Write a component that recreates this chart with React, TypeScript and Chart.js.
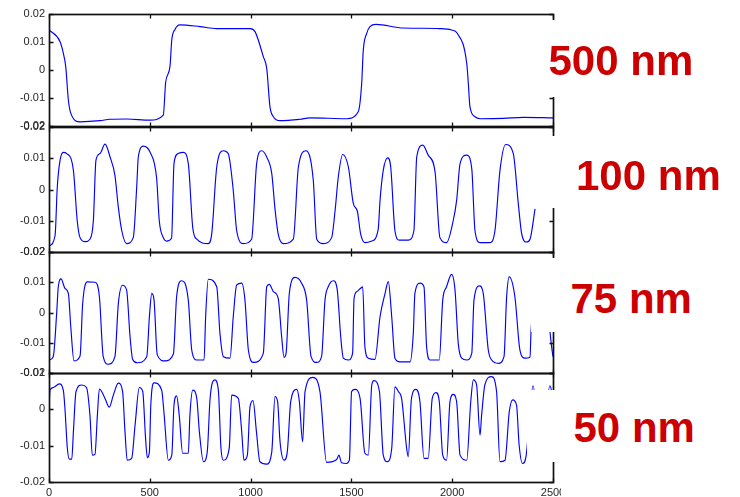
import React, { useEffect, useRef } from 'react';
import { Chart, registerables } from 'chart.js';

Chart.register(...registerables);

// ---------- data ----------
const X_TICKS = [0, 500, 1000, 1500, 2000, 2500];
const Y_TICKS_FULL = [-0.02, -0.01, 0, 0.01, 0.02];
const Y_TICKS_50 = [-0.02, -0.01, 0, 0.01];
const LABELS = ['500 nm', '100 nm', '75 nm', '50 nm'];

const TRACE_500NM: [number, number][] = [
  [0, 0.0143], [55, 0.0101], [71, 0.006], [83, 0.0012], [96, -0.0107], [108, -0.0154], [154, -0.0185],
  [253, -0.0181], [303, -0.0176], [385, -0.0175], [501, -0.0179], [567, -0.0161], [579, -0.0042],
  [600, 0.0012], [609, 0.0107], [625, 0.0145], [650, 0.0161], [749, 0.0155], [832, 0.0148], [997, 0.0148],
  [1022, 0.0137], [1063, 0.0048], [1080, 0.0006], [1096, -0.0131], [1113, -0.0167], [1146, -0.0181],
  [1245, -0.0176], [1295, -0.0171], [1477, -0.0174], [1534, -0.0149], [1551, -0.0048], [1559, 0.0071],
  [1576, 0.0131], [1592, 0.0155], [1622, 0.0163], [1757, 0.015], [1939, 0.0148], [1997, 0.0143],
  [2025, 0.0131], [2072, 0.0024], [2080, -0.0048], [2088, -0.0131], [2113, -0.0167], [2138, -0.0174],
  [2253, -0.0173], [2353, -0.0169], [2500, -0.0171],
];

const TRACE_100NM: [number, number][] = [
  [0, -0.0181], [30, -0.0148], [41, 0.0007], [55, 0.0094], [71, 0.0119], [88, 0.0115], [121, 0.0061],
  [140, -0.01], [154, -0.0154], [179, -0.0167], [203, -0.0159], [220, -0.01], [233, 0.0094], [253, 0.0115],
  [278, 0.0145], [303, 0.0104], [327, 0.0045], [344, -0.0057], [361, -0.0132], [385, -0.0173], [418, -0.0154],
  [435, 0.0007], [443, 0.0104], [468, 0.0139], [501, 0.012], [534, 0.0035], [547, -0.01], [567, -0.0154],
  [583, -0.0165], [608, -0.0156], [620, 0.0083], [641, 0.0115], [666, 0.0119], [691, 0.0083], [713, -0.0122],
  [733, -0.0159], [790, -0.0173], [807, -0.0143], [832, 0.0072], [865, 0.0124], [889, 0.0115], [914, -0.0003],
  [931, -0.0132], [964, -0.0173], [1005, -0.0159], [1030, 0.0083], [1055, 0.0124], [1080, 0.0104],
  [1105, 0.0051], [1121, -0.0062], [1137, -0.0143], [1162, -0.0173], [1212, -0.0159], [1237, 0.0072],
  [1275, 0.0124], [1311, 0.0029], [1328, -0.0159], [1361, -0.0173], [1402, -0.0154], [1419, -0.0068],
  [1435, 0.004], [1457, 0.0112], [1485, 0.0072], [1510, -0.0046], [1529, -0.0068], [1546, -0.0143],
  [1567, -0.017], [1601, -0.0165], [1633, -0.0127], [1642, -0.0035], [1658, 0.0061], [1680, 0.0101],
  [1695, 0.0072], [1716, -0.0132], [1738, -0.0162], [1782, -0.0162], [1810, -0.0132], [1824, 0.0104],
  [1854, 0.0142], [1881, 0.011], [1915, 0.0056], [1939, -0.0154], [1972, -0.017], [2005, -0.01],
  [2022, -0.0035], [2039, 0.0083], [2072, 0.011], [2097, 0.0067], [2113, -0.0132], [2138, -0.017],
  [2187, -0.017], [2212, -0.0132], [2237, 0.0061], [2265, 0.0144], [2303, 0.0115], [2328, -0.0046],
  [2345, -0.0143], [2369, -0.0168], [2386, -0.0159], [2411, -0.0062],
];

const TRACE_75NM: [number, number][] = [
  [0, -0.0157], [21, -0.0146], [38, -0.0003], [46, 0.0085], [60, 0.0111], [79, 0.008], [96, 0.0063],
  [108, -0.0047], [124, -0.016], [154, -0.0144], [167, 0.003], [190, 0.0101], [228, 0.01], [250, 0.0052],
  [269, -0.0146], [294, -0.0171], [327, -0.0146], [344, 0.003], [365, 0.009], [385, 0.0074], [402, -0.008],
  [415, -0.0155], [438, -0.0166], [485, -0.0146], [498, -0.0014], [510, 0.0063], [521, 0.0041], [537, -0.014],
  [575, -0.016], [617, -0.0137], [633, 0.0052], [658, 0.0105], [691, 0.0041], [708, -0.0124], [733, -0.0157],
  [769, -0.0157], [777, -0.0014], [790, 0.011], [832, 0.0085], [848, -0.0069], [865, -0.0146], [898, -0.0151],
  [914, -0.0014], [931, 0.0091], [956, 0.0097], [972, 0.0041], [989, -0.0124], [1015, -0.0165], [1063, -0.0135],
  [1080, 0.0085], [1093, 0.0093], [1113, 0.0069], [1137, 0.0047], [1154, -0.008], [1166, -0.0148],
  [1176, -0.0135], [1192, 0.0063], [1220, 0.0116], [1253, 0.0097], [1278, 0.0041], [1300, -0.0146],
  [1328, -0.0165], [1352, -0.0146], [1369, 0.0041], [1385, 0.0085], [1410, 0.0105], [1430, 0.0074],
  [1447, -0.008], [1460, -0.0151], [1485, -0.0157], [1506, -0.0135], [1513, 0.0045], [1527, 0.0069],
  [1546, 0.008], [1556, 0.0085], [1567, -0.0113], [1584, -0.0151], [1617, -0.0155], [1642, -0.0014],
  [1667, 0.0063], [1683, 0.0102], [1700, -0.0014], [1716, -0.0151], [1741, -0.0163], [1791, -0.0163],
  [1807, -0.0069], [1815, 0.0063], [1840, 0.0097], [1860, 0.0085], [1873, -0.0113], [1890, -0.0157],
  [1936, -0.0157], [1953, 0.0041], [1972, 0.0085], [1997, 0.0126], [2014, 0.0074], [2030, -0.0102],
  [2047, -0.0151], [2072, -0.0157], [2097, -0.0135], [2108, 0.0041], [2135, 0.0088], [2154, 0.0063],
  [2179, -0.0124], [2196, -0.0157], [2229, -0.0168], [2257, -0.0146], [2270, 0.0052], [2283, 0.0118],
  [2311, 0.0052], [2336, -0.0124], [2361, -0.0151], [2386, -0.0148], [2391, -0.0063], [2410, 0.006],
  [2445, 0.008], [2475, 0.003], [2485, -0.0063], [2493, -0.0113], [2500, -0.0146],
];

const TRACE_50NM: [number, number][] = [
  [0, 0.0003], [5, 0.0053], [21, 0.006], [51, 0.007], [71, 0.0053], [79, 0.0003], [91, -0.0107],
  [101, -0.0137], [113, -0.0137], [121, -0.0062], [134, 0.0049], [162, 0.0067], [186, 0.006], [203, -0.0016],
  [215, -0.0126], [228, -0.0124], [240, -0.0016], [250, 0.0056], [278, 0.003], [299, 0.0006], [319, 0.0039],
  [344, 0.0072], [365, 0.0049], [377, -0.0062], [388, -0.014], [410, -0.0135], [427, -0.0043], [448, 0.006],
  [465, 0.0049], [479, -0.008], [488, -0.0133], [498, -0.0117], [505, 0.0012], [521, 0.0073], [559, 0.0053],
  [570, -0.0007], [592, -0.014], [609, -0.0126], [620, 0.0012], [633, 0.0037], [646, -0.0016], [663, -0.0121],
  [691, -0.0121], [699, -0.0016], [713, 0.0053], [733, 0.003], [746, -0.0062], [766, -0.0144], [785, -0.0117],
  [799, 0.003], [823, 0.0081], [840, 0.0053], [853, -0.0107], [865, -0.014], [894, -0.0107], [906, 0.0039],
  [939, 0.003], [956, -0.0062], [967, -0.014], [984, -0.0126], [997, 0.0007], [1012, 0.0024], [1029, -0.0062],
  [1046, -0.0144], [1079, -0.0151], [1105, -0.0117], [1121, 0.0035], [1134, 0.0021], [1146, -0.0089],
  [1166, -0.014], [1182, -0.0117], [1199, 0.0021], [1229, 0.0055], [1242, 0.0021], [1258, -0.0089],
  [1270, 0.0049], [1308, 0.0088], [1344, 0.0049], [1377, -0.0146], [1427, -0.0138], [1438, -0.0126],
  [1451, -0.0147], [1475, -0.0149], [1490, -0.014], [1501, 0.0049], [1518, 0.0055], [1543, 0.003],
  [1567, -0.0121], [1584, -0.0126], [1601, 0.0067], [1612, 0.0079], [1639, 0.0049], [1658, -0.0126],
  [1678, -0.0144], [1700, -0.0107], [1716, 0.0062], [1733, 0.0049], [1749, 0.003], [1774, -0.0107],
  [1782, -0.013], [1798, 0.003], [1820, 0.0055], [1840, 0.0021], [1860, -0.0135], [1881, -0.0135],
  [1901, 0.003], [1920, 0.0046], [1936, 0.0021], [1953, -0.0126], [1972, -0.014], [1989, 0.0021],
  [2005, 0.0041], [2022, 0.0021], [2039, -0.0126], [2072, -0.014], [2092, 0.0021], [2105, 0.0081],
  [2121, 0.0067], [2138, -0.0071], [2146, -0.0016], [2162, 0.0067], [2195, 0.009], [2220, 0.0049],
  [2237, -0.0144], [2262, -0.014], [2283, -0.0007], [2300, 0.0026], [2319, 0.0012], [2332, -0.0098],
  [2349, -0.0149], [2366, -0.013], [2401, 0.0065], [2440, -0.012], [2485, 0.0065], [2500, 0.003],
];

// ---------- layout ----------
const FONT_FAMILY = '"Liberation Sans", Arial, Helvetica, sans-serif';
const TICK_COLOR = '#262626';

type PanelDef = {
  trace: [number, number][];
  yMin: number;
  yMax: number;
  yTicks: number[];
  top: number;
  height: number;
  padTop: number;
  padBottom: number;
  showX: boolean;
  xHeight: number;
};

const PANELS: PanelDef[] = [
  { trace: TRACE_500NM, yMin: -0.02, yMax: 0.02, yTicks: Y_TICKS_FULL, top: 0, height: 140, padTop: 14, padBottom: 14, showX: false, xHeight: 0 },
  { trace: TRACE_100NM, yMin: -0.02, yMax: 0.02, yTicks: Y_TICKS_FULL, top: 113, height: 155, padTop: 14, padBottom: 16, showX: false, xHeight: 0 },
  { trace: TRACE_75NM, yMin: -0.02, yMax: 0.02, yTicks: Y_TICKS_FULL, top: 238, height: 150, padTop: 14, padBottom: 15, showX: false, xHeight: 0 },
  { trace: TRACE_50NM, yMin: -0.02, yMax: 0.01, yTicks: Y_TICKS_50, top: 359, height: 138, padTop: 14, padBottom: 0, showX: true, xHeight: 15 },
];

// white label boxes (page coordinates) and label text positions
const BOXES = [
  { left: 548, top: 20, width: 170, height: 77 },
  { left: 540, top: 136, width: 195, height: 72 },
  { left: 531, top: 258, width: 190, height: 74 },
  { left: 527, top: 390, width: 195, height: 72 },
];
const LABEL_POS = [
  { left: 548.5, top: 39.5 },
  { left: 576, top: 154.5 },
  { left: 570.5, top: 277.5 },
  { left: 573.5, top: 406.5 },
];

const CANVAS_W = 600;
const CLIP_W = 561;

const framePlugin = {
  id: 'frame',
  afterDatasetsDraw(chart: any, _args: any, opts: any) {
    const { ctx, chartArea: a, scales } = chart;
    const xs = scales.x;
    const ys = scales.y;
    const L = Math.round(a.left) + 0.5;
    const R = Math.round(a.right) + 0.5;
    const T = Math.round(a.top) + 0.5;
    const B = Math.round(a.bottom) + 0.5;
    ctx.save();
    ctx.strokeStyle = '#111111';
    ctx.lineWidth = 1.7;
    ctx.strokeRect(L, T, R - L, B - T);
    ctx.beginPath();
    ctx.lineWidth = 1.3;
    const tl = 4;
    for (const v of opts.xTicks as number[]) {
      const p = Math.round(xs.getPixelForValue(v)) + 0.5;
      ctx.moveTo(p, B); ctx.lineTo(p, B - tl);
      ctx.moveTo(p, T); ctx.lineTo(p, T + tl);
    }
    for (const v of opts.yTicks as number[]) {
      const p = Math.round(ys.getPixelForValue(v)) + 0.5;
      ctx.moveTo(L, p); ctx.lineTo(L + tl, p);
      ctx.moveTo(R, p); ctx.lineTo(R - tl, p);
    }
    ctx.stroke();
    ctx.restore();
  },
};

const fmtY = (v: number) => {
  const r = Math.round(v * 100) / 100;
  return r === 0 ? '0' : String(r);
};

function Panel({ def }: { def: PanelDef }) {
  const ref = useRef<HTMLCanvasElement | null>(null);
  useEffect(() => {
    if (!ref.current) return;
    const font = { family: FONT_FAMILY, size: 11 };
    const chart = new Chart(ref.current, {
      type: 'line',
      data: {
        datasets: [
          {
            data: def.trace.map(([x, y]) => ({ x, y })),
            borderColor: '#0000ff',
            borderWidth: 1.15,
            pointRadius: 0,
            fill: false,
            cubicInterpolationMode: 'monotone',
          } as any,
        ],
      },
      options: {
        animation: false,
        responsive: false,
        devicePixelRatio: 1,
        events: [],
        layout: { padding: { left: 0, right: CANVAS_W - 553, top: def.padTop, bottom: def.padBottom } },
        plugins: {
          legend: { display: false },
          tooltip: { enabled: false },
          frame: { xTicks: X_TICKS, yTicks: def.yTicks },
        } as any,
        scales: {
          x: {
            type: 'linear',
            min: 0,
            max: 2500,
            display: def.showX,
            grid: { display: false, drawTicks: false },
            border: { display: false },
            ticks: { padding: 4, font, color: TICK_COLOR, maxRotation: 0, autoSkip: false, callback: (v: any) => String(v) },
            afterBuildTicks: (s: any) => { s.ticks = X_TICKS.map((v) => ({ value: v })); },
            afterFit: (s: any) => { s.height = def.xHeight; },
          },
          y: {
            type: 'linear',
            min: def.yMin,
            max: def.yMax,
            grid: { display: false, drawTicks: false },
            border: { display: false },
            ticks: { padding: 4, font, color: TICK_COLOR, callback: (v: any) => fmtY(Number(v)) },
            afterBuildTicks: (s: any) => { s.ticks = def.yTicks.map((v) => ({ value: v })); },
            afterFit: (s: any) => { s.width = 49; },
          },
        },
      } as any,
      plugins: [framePlugin as any],
    });
    return () => chart.destroy();
  }, [def]);
  return (
    <div style={{ position: 'absolute', left: 0, top: def.top, width: CLIP_W, height: def.height, overflow: 'hidden' }}>
      <canvas ref={ref} width={CANVAS_W} height={def.height} style={{ display: 'block', width: CANVAS_W, height: def.height }} />
    </div>
  );
}

export default function App() {
  return (
    <div style={{ position: 'absolute', left: 0, top: 0, width: 740, height: 497, overflow: 'hidden', background: '#fff' }}>
      {PANELS.map((p, i) => (
        <Panel key={i} def={p} />
      ))}
      {BOXES.map((b, i) => (
        <div key={'b' + i} style={{ position: 'absolute', left: b.left, top: b.top, width: b.width, height: b.height, background: '#fff' }} />
      ))}
      {LABELS.map((t, i) => (
        <div
          key={'l' + i}
          style={{
            position: 'absolute',
            left: LABEL_POS[i].left,
            top: LABEL_POS[i].top,
            font: `bold 42px ${FONT_FAMILY}`,
            lineHeight: '42px',
            color: '#cc0000',
            whiteSpace: 'nowrap',
          }}
        >
          {t}
        </div>
      ))}
    </div>
  );
}
